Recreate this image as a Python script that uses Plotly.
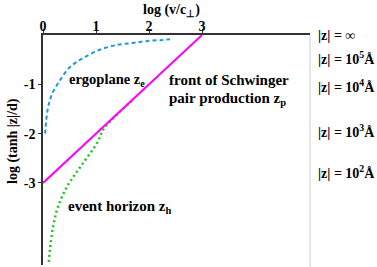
import plotly.graph_objects as go

# ---- data ----
ergo_x = [0.04, 0.09, 0.17, 0.32, 0.51, 0.75, 1.07, 1.40, 1.70, 1.98, 2.26, 2.45]
ergo_y = [-2.0, -1.5, -1.2, -0.92, -0.65, -0.47, -0.30, -0.20, -0.16, -0.12, -0.10, -0.08]

schw_x = [0.0, 3.0]
schw_y = [-3.0, 0.0]

hor_x = [0.11, 0.13, 0.19, 0.28, 0.45, 0.70, 1.02, 1.13, 1.26, 1.45, 1.72]
hor_y = [-4.6, -4.36, -3.89, -3.49, -3.08, -2.68, -2.19, -1.93, -1.76, -1.56, -1.29]

x_ticks = [0, 1, 2, 3]
x_tick_text = ["0", "1", "2", "3"]
y_ticks = [-3, -2, -1]
y_tick_text = ["-3", "-2", "-1"]

z_labels = ["|z| = \u221e", "|z| = 10<sup>5</sup>\u00c5", "|z| = 10<sup>4</sup>\u00c5",
            "|z| = 10<sup>3</sup>\u00c5", "|z| = 10<sup>2</sup>\u00c5"]
z_label_pix_y = [35, 58, 86, 131, 172]

# ---- layout geometry (pixels) ----
W, H = 377, 267
L, T, B = 43, 35, 2
R = 377 - 310
PW, PH = W - L - R, H - T - B


def px(xp):
    return (xp - L) / PW


def py(yp):
    return (H - B - yp) / PH


FONT = "Liberation Serif"

fig = go.Figure()
fig.add_trace(go.Scatter(x=ergo_x, y=ergo_y, mode="lines", line_shape="spline",
                         line=dict(color="#1f9ad6", width=2, dash="4px,3px"),
                         showlegend=False, hoverinfo="skip"))
fig.add_trace(go.Scatter(x=hor_x, y=hor_y, mode="lines", line_shape="spline",
                         line=dict(color="#22c322", width=2.5, dash="2px,3px"),
                         showlegend=False, hoverinfo="skip"))
fig.add_trace(go.Scatter(x=schw_x, y=schw_y, mode="lines",
                         line=dict(color="#ff00ff", width=2),
                         showlegend=False, hoverinfo="skip"))

tickfont = dict(family=FONT, size=14, color="black", weight="bold")

fig.update_xaxes(range=[0, PW / 53.0], side="top", tickvals=x_ticks,
                 ticktext=["<b>" + t + "</b>" for t in x_tick_text],
                 ticks="outside", ticklen=4, tickwidth=1.2, tickcolor="#333",
                 ticklabelstandoff=-7,
                 showline=True, linecolor="#333", linewidth=1.5,
                 showgrid=False, zeroline=False, tickfont=tickfont,
                 fixedrange=True, automargin=False)
fig.update_yaxes(range=[-PH / 49.33, 0], tickvals=y_ticks,
                 ticktext=["<b>" + t + "</b>" for t in y_tick_text],
                 ticks="outside", ticklen=3, tickwidth=1.2, tickcolor="#333",
                 showline=True, linecolor="#333", linewidth=1.5,
                 showgrid=False, zeroline=False, tickfont=tickfont,
                 fixedrange=True, automargin=False)

# light grey vertical separator on the right
fig.add_shape(type="line", xref="paper", yref="paper", x0=1, x1=1, y0=-B / PH, y1=1,
              line=dict(color="#cccccc", width=1))

annots = []


def add_text(text, x, y, xanchor="left", textangle=0, size=15):
    annots.append(dict(text="<b>" + text + "</b>", x=px(x), y=py(y), xref="paper", yref="paper",
                       xanchor=xanchor, yanchor="middle", showarrow=False,
                       textangle=textangle,
                       font=dict(family=FONT, size=size, color="black", weight="bold")))


add_text("log (v/c<sub>\u22a5</sub>)", 171, 11, xanchor="center", size=14)
add_text("log (tanh |z|/d)", 13, 141, xanchor="center", textangle=-90, size=14)
add_text("ergoplane z<sub>e</sub>", 67, 80, size=14.5)
add_text("front of Schwinger", 167, 80)
add_text("pair production z<sub>p</sub>", 167, 99)
add_text("event horizon z<sub>h</sub>", 66, 207)
for t, yy in zip(z_labels, z_label_pix_y):
    add_text(t, 316, yy, size=14)

fig.update_layout(width=W, height=H, margin=dict(l=L, r=R, t=T, b=B, autoexpand=False),
                  plot_bgcolor="white", paper_bgcolor="white",
                  annotations=annots, showlegend=False)

fig.write_html("out.html", config={"displayModeBar": False},
               post_script="document.body.style.margin='0';document.body.style.overflow='hidden';")
